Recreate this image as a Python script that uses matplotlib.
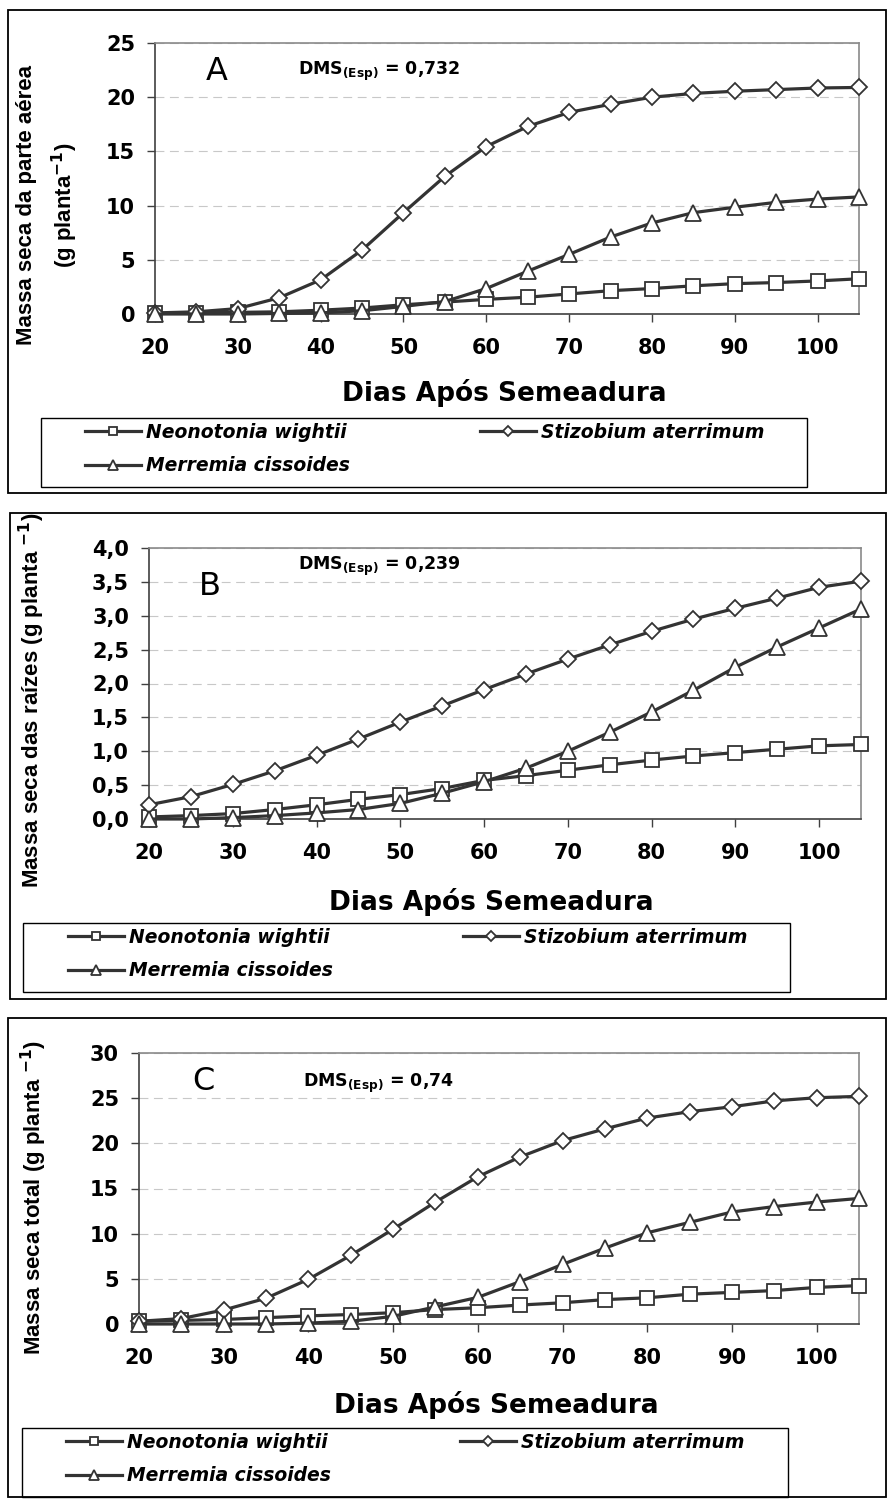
import matplotlib
matplotlib.use("Agg")
import matplotlib.pyplot as plt
from matplotlib.patches import Rectangle

# Dias apos semeadura
days = [20, 25, 30, 35, 40, 45, 50, 55, 60, 65, 70, 75, 80, 85, 90, 95, 100, 105]

# A - massa seca da parte aerea
neo_a = [0.05, 0.1, 0.15, 0.2, 0.35, 0.55, 0.85, 1.1, 1.35, 1.55, 1.85, 2.15, 2.35, 2.6, 2.8, 2.9, 3.05, 3.25]
sti_a = [0.1, 0.2, 0.5, 1.5, 3.15, 5.9, 9.35, 12.7, 15.45, 17.3, 18.6, 19.35, 20.0, 20.35, 20.55, 20.7, 20.85, 20.9]
mer_a = [0.0, 0.0, 0.0, 0.05, 0.1, 0.3, 0.7, 1.15, 2.35, 3.95, 5.5, 7.1, 8.4, 9.35, 9.85, 10.3, 10.6, 10.8]

# B - massa seca das raizes
neo_b = [0.03, 0.05, 0.08, 0.14, 0.21, 0.29, 0.36, 0.45, 0.57, 0.64, 0.72, 0.8, 0.87, 0.93, 0.98, 1.03, 1.08, 1.1]
sti_b = [0.21, 0.33, 0.51, 0.71, 0.94, 1.18, 1.43, 1.67, 1.91, 2.14, 2.36, 2.57, 2.77, 2.95, 3.11, 3.26, 3.42, 3.51]
mer_b = [0.0, 0.0, 0.02, 0.05, 0.09, 0.14, 0.23, 0.38, 0.55, 0.75, 1.0, 1.28, 1.58, 1.9, 2.24, 2.54, 2.82, 3.1]

# C - massa seca total
neo_c = [0.3, 0.4, 0.5, 0.7, 0.9, 1.05, 1.25, 1.6, 1.8, 2.1, 2.35, 2.7, 2.9, 3.3, 3.5, 3.7, 4.05, 4.25]
sti_c = [0.3, 0.6, 1.55, 2.85, 4.95, 7.6, 10.5, 13.5, 16.3, 18.5, 20.3, 21.6, 22.8, 23.5, 24.05, 24.7, 25.05, 25.2]
mer_c = [0.0, 0.0, 0.0, 0.0, 0.1, 0.3, 0.85, 1.9, 2.95, 4.7, 6.6, 8.4, 10.1, 11.25, 12.4, 13.0, 13.5, 13.9]

species = ["Neonotonia wightii", "Stizobium aterrimum", "Merremia cissoides"]
x_ticks = [20, 30, 40, 50, 60, 70, 80, 90, 100]
yticks_a = [0, 5, 10, 15, 20, 25]
yticks_b = [0.0, 0.5, 1.0, 1.5, 2.0, 2.5, 3.0, 3.5, 4.0]
yticks_c = [0, 5, 10, 15, 20, 25, 30]
dms = ["0,732", "0,239", "0,74"]
letters = ["A", "B", "C"]
ylabels = ["Massa seca da parte aérea\n(g planta$^{\\mathbf{-1}}$)",
           "Massa seca das raízes (g planta $^{\\mathbf{-1}}$)",
           "Massa seca total (g planta $^{\\mathbf{-1}}$)"]

W, H = 889, 1499
LINE = "#333333"


def fx(px):
    return px / W


def fy(py):
    return 1 - py / H


fig = plt.figure(figsize=(W / 100, H / 100), dpi=100)

# layout in pixels of the reference
panels = [
    dict(series=(neo_a, sti_a, mer_a), yticks=yticks_a, fmt="{:.0f}",
         plot=(155, 43, 859, 314), frame=(8, 10, 886, 493),
         legbox=(41, 418, 807, 487), leg=(85, 423, 764),
         xlab=(504, 393), ylab=(48, 205), letter=(217, 80), dms=(298, 75)),
    dict(series=(neo_b, sti_b, mer_b), yticks=yticks_b, fmt="{:.1f}",
         plot=(149, 548, 861, 819), frame=(10, 513, 886, 999),
         legbox=(23, 923, 790, 992), leg=(68, 928, 747),
         xlab=(491, 902), ylab=(32, 700), letter=(210, 595), dms=(298, 570)),
    dict(series=(neo_c, sti_c, mer_c), yticks=yticks_c, fmt="{:.0f}",
         plot=(139, 1053, 859, 1324), frame=(8, 1018, 886, 1497),
         legbox=(22, 1428, 788, 1497), leg=(66, 1433, 744),
         xlab=(496, 1405), ylab=(34, 1198), letter=(203, 1090), dms=(303, 1087)),
]

markers = [("s", 10, 6), ("D", 8.5, 5), ("^", 11, 7)]

for i, p in enumerate(panels):
    l, t, r, b = p["plot"]
    ax = fig.add_axes([fx(l), fy(b), (r - l) / W, (b - t) / H])
    ax.set_facecolor("none")
    lines = []
    for vals, (mk, ms, _), lab in zip(p["series"], markers, species):
        ln, = ax.plot(days, vals, color=LINE, lw=2.3, marker=mk, ms=ms,
                      mfc="white", mec=LINE, mew=1.3, label=lab,
                      clip_on=False, zorder=3)
        lines.append(ln)

    yt = p["yticks"]
    ax.set_xlim(20, 105)
    ax.set_ylim(yt[0], yt[-1])
    ax.set_xticks(x_ticks)
    ax.set_xticklabels([str(v) for v in x_ticks], fontweight="bold")
    ax.set_yticks(yt)
    ax.set_yticklabels([p["fmt"].format(v).replace(".", ",") for v in yt],
                       fontweight="bold")
    ax.tick_params(axis="both", direction="out", length=5.8, width=1.0,
                   color="#404040", labelsize=15)
    ax.tick_params(axis="y", pad=8.6)
    ax.tick_params(axis="x", pad=11.5)
    ax.grid(axis="y", color="#c8c8c8", lw=0.8, linestyle=(0, (8, 5)))
    ax.grid(axis="x", visible=False)
    ax.set_axisbelow(True)
    for s in ["left", "bottom"]:
        ax.spines[s].set_color("#404040")
        ax.spines[s].set_linewidth(1.2)
    for s in ["top", "right"]:
        ax.spines[s].set_color("#8a8a8a")
        ax.spines[s].set_linewidth(1.2)

    # axis labels
    ax.set_xlabel("Dias Após Semeadura", fontsize=19, fontweight="bold")
    ax.xaxis.label.set_va("center")
    ax.xaxis.set_label_coords((p["xlab"][0] - l) / (r - l), (b - p["xlab"][1]) / (b - t))
    ax.set_ylabel(ylabels[i], fontsize=16, fontweight="bold",
                  family="Liberation Sans", linespacing=1.6)
    ax.yaxis.label.set_va("center")
    ax.yaxis.label.set_ha("center")
    ax.yaxis.set_label_coords((p["ylab"][0] - l) / (r - l), (b - p["ylab"][1]) / (b - t))

    # letter and DMS
    fig.text(fx(p["letter"][0]), fy(p["letter"][1]), letters[i], fontsize=23,
             ha="center", va="baseline")
    fig.text(fx(p["dms"][0]), fy(p["dms"][1]),
             "DMS$_{\\mathbf{(Esp)}}$ = " + dms[i], fontsize=12.5,
             fontweight="bold", ha="left", va="baseline")

    # legend
    x0, ytop, x1 = p["leg"]
    leg = ax.legend([lines[0], lines[2], lines[1]],
                    [species[0], species[2], species[1]],
                    loc="upper left", ncol=2, mode="expand",
                    bbox_to_anchor=(fx(x0), fy(ytop), (x1 - x0) / W, 0),
                    bbox_transform=fig.transFigure, frameon=False,
                    borderpad=0, borderaxespad=0, handlelength=3.0,
                    handletextpad=0.25, labelspacing=0.75,
                    prop=dict(family="DejaVu Sans", weight="bold",
                              style="italic", size=13.5))
    for h, k in zip(leg.legend_handles, [0, 2, 1]):
        h.set_markersize(markers[k][2])

    bl, bt, br, bb = p["legbox"]
    fig.add_artist(Rectangle((fx(bl), fy(bb)), (br - bl) / W, (bb - bt) / H,
                             transform=fig.transFigure, fill=False,
                             ec="black", lw=1.0))
    fl, ft, fr, fb = p["frame"]
    fig.add_artist(Rectangle((fx(fl), fy(fb)), (fr - fl) / W, (fb - ft) / H,
                             transform=fig.transFigure, fill=False,
                             ec="black", lw=1.3))

fig.savefig("out.png", dpi=100, facecolor="white")
